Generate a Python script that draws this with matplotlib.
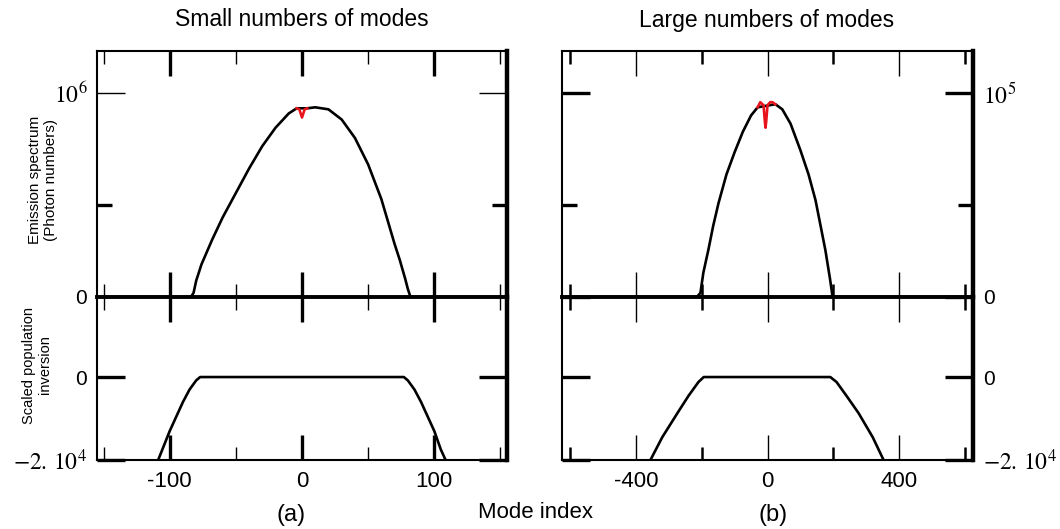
import matplotlib
matplotlib.use("Agg")
import matplotlib.pyplot as plt
from matplotlib.ticker import FixedLocator

plt.rcParams['font.family'] = ['Liberation Sans', 'DejaVu Sans']
plt.rcParams['mathtext.fontset'] = 'stix'

# emission spectrum, small number of modes (units of 1e6 photons)
spec_a_x = [-155, -84, -82, -80, -76, -72, -68, -60, -50, -40, -30, -20, -10, -4,
            4, 10, 20, 30, 40, 50, 60, 65, 70, 74, 78, 80, 82, 155]
spec_a_y = [0, 0, 0.02, 0.08, 0.16, 0.22, 0.28, 0.39, 0.51, 0.63, 0.74, 0.83, 0.9, 0.925,
            0.925, 0.93, 0.92, 0.87, 0.78, 0.65, 0.48, 0.37, 0.26, 0.18, 0.09, 0.04, 0, 0]
red_a_x = [-4, -2, -1, 0, 1, 2, 4]
red_a_y = [0.925, 0.92, 0.9, 0.88, 0.9, 0.92, 0.925]

# emission spectrum, large number of modes (units of 1e5 photons)
spec_b_x = [-625, -215, -204, -195, -180, -165, -149, -125, -100, -75, -50, -30,
            24, 45, 70, 100, 125, 146, 165, 176, 190, 198, 210, 625]
spec_b_y = [0, 0, 0.02, 0.12, 0.23, 0.35, 0.46, 0.6, 0.71, 0.81, 0.89, 0.93,
            0.945, 0.92, 0.85, 0.72, 0.6, 0.475, 0.32, 0.23, 0.09, 0, 0, 0]
red_b_x = [-30, -22, -12, -8, -6, -4, 0, 8, 15, 24]
red_b_y = [0.93, 0.955, 0.94, 0.86, 0.83, 0.86, 0.94, 0.955, 0.955, 0.945]

# scaled population inversion (units of 1e4)
inv_a_x = [-113, -110, -105, -100, -95, -90, -85, -80, -77,
           77, 80, 85, 90, 95, 100, 105, 110, 113]
inv_a_y = [-2.3, -2.1, -1.7, -1.3, -0.95, -0.6, -0.3, -0.08, 0,
           0, -0.08, -0.3, -0.6, -0.95, -1.3, -1.75, -2.1, -2.3]
inv_b_x = [-370, -356, -320, -274, -240, -210, -194, 191, 210, 240, 277, 320, 353, 370]
inv_b_y = [-2.3, -2.0, -1.45, -0.87, -0.45, -0.12, 0, 0, -0.12, -0.45, -0.87, -1.45, -2.0, -2.3]

W, H = 1060, 529


def px_axes(fig, x0, y0, x1, y1):
    return fig.add_axes([x0 / W, 1 - y1 / H, (x1 - x0) / W, (y1 - y0) / H])


def style_panel(top, bot, xlim, majors, minors, xlabels, maj_w, min_w, ylab_top, yw_major, side):
    for ax in (top, bot):
        ax.set_xlim(xlim)
        ax.xaxis.set_major_locator(FixedLocator(majors))
        ax.xaxis.set_minor_locator(FixedLocator(minors))
        ax.tick_params(axis='x', which='major', direction='in', top=True, bottom=True,
                       length=18, width=maj_w, color='black')
        ax.tick_params(axis='x', which='minor', direction='in', top=True, bottom=True,
                       length=9.5, width=min_w, color='black')
        ax.spines['left'].set_linewidth(1.5)
        ax.spines['right'].set_linewidth(3.2)
        ax.spines['top'].set_linewidth(1.5)
        ax.spines['bottom'].set_linewidth(1.5)
        ax.set_facecolor('none')

    top.spines['bottom'].set_linewidth(2.8)
    bot.spines['top'].set_visible(False)
    top.tick_params(axis='x', labelbottom=False)
    bot.set_xticklabels(xlabels)
    bot.tick_params(axis='x', labelsize=16, pad=8)

    label_left = side == 'left'
    top.set_ylim(0, 1.206)
    top.set_yticks([0, 1])
    top.set_yticklabels(['0', ylab_top])
    top.yaxis.set_minor_locator(FixedLocator([0.45]))
    top.tick_params(axis='y', which='major', direction='in', left=True, right=True,
                    length=20, width=yw_major, labelsize=17, pad=7,
                    labelleft=label_left, labelright=not label_left)
    top.tick_params(axis='y', which='minor', direction='in', left=True, right=True,
                    length=11, width=2.4)

    bot.set_ylim(-2, 1.93)
    bot.set_yticks([-2, 0])
    bot.set_yticklabels(['$-2.\\,10^4$', '0'])
    bot.tick_params(axis='y', which='major', direction='in', left=True, right=True,
                    length=20, width=2.4, labelsize=17, pad=7,
                    labelleft=label_left, labelright=not label_left)
    for ax in (top, bot):
        for lab in ax.get_yticklabels():
            if lab.get_text() == '0':
                lab.set_fontsize(15)


fig = plt.figure(figsize=(W / 100, H / 100), dpi=100)

ax_a_top = px_axes(fig, 97, 51, 507, 297)
ax_a_bot = px_axes(fig, 97, 297, 507, 460)
ax_b_top = px_axes(fig, 562, 51, 973, 297)
ax_b_bot = px_axes(fig, 562, 297, 973, 460)

style_panel(ax_a_top, ax_a_bot, (-155, 155), [-100, 0, 100], [-150, -50, 50, 150],
            ['-100', '0', '100'], 2.4, 1.0, '$10^6$', 1.0, 'left')
style_panel(ax_b_top, ax_b_bot, (-625, 625), [-400, 0, 400], [-600, -200, 200, 600],
            ['-400', '0', '400'], 1.0, 1.8, '$10^5$', 2.4, 'right')

ax_a_top.plot(spec_a_x, spec_a_y, color='black', lw=1.9)
ax_a_top.plot(red_a_x, red_a_y, color='#e8141c', lw=1.9)
ax_b_top.plot(spec_b_x, spec_b_y, color='black', lw=1.9)
ax_b_top.plot(red_b_x, red_b_y, color='#e8141c', lw=1.9)
ax_a_bot.plot(inv_a_x, inv_a_y, color='black', lw=1.9)
ax_b_bot.plot(inv_b_x, inv_b_y, color='black', lw=1.9)

fig.text(302 / W, 1 - 20 / H, 'Small numbers of modes', ha='center', va='center', fontsize=16.5)
fig.text(767 / W, 1 - 20 / H, 'Large numbers of modes', ha='center', va='center', fontsize=16.5)
fig.text(43 / W, 1 - 180 / H, 'Emission spectrum\n(Photon numbers)', rotation=90,
         ha='center', va='center', fontsize=11, multialignment='center')
fig.text(37 / W, 1 - 365 / H, 'Scaled population\ninversion', rotation=90,
         ha='center', va='center', fontsize=10.5, multialignment='center')
fig.text(291 / W, 1 - 515 / H, '(a)', ha='center', va='center', fontsize=17)
fig.text(773 / W, 1 - 515 / H, '(b)', ha='center', va='center', fontsize=17)
fig.text(535 / W, 1 - 512 / H, 'Mode index', ha='center', va='center', fontsize=16)

fig.savefig('out.png', dpi=100)
